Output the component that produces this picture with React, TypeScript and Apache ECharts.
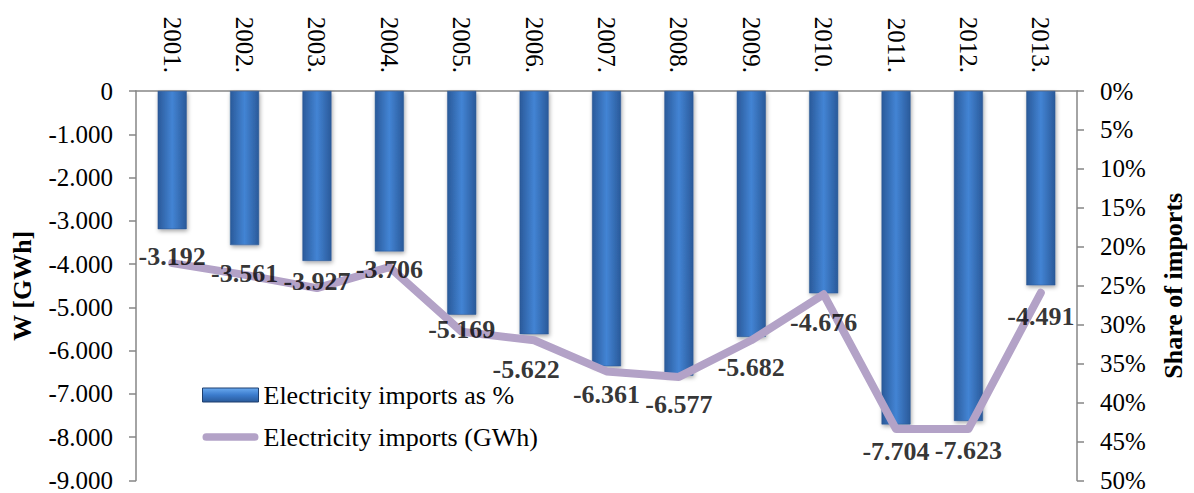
import React, { useEffect, useRef } from "react";
import * as echarts from "echarts";

const years = ["2001.", "2002.", "2003.", "2004.", "2005.", "2006.", "2007.", "2008.", "2009.", "2010.", "2011.", "2012.", "2013."];
const importsGWh = [-3192, -3561, -3927, -3706, -5169, -5622, -6361, -6577, -5682, -4676, -7704, -7623, -4491];
const sharePct = [22.1, 23.6, 25.3, 22.6, 30.9, 32.0, 36.0, 36.7, 32.0, 26.1, 43.4, 43.4, 25.9];

const barName = "Electricity imports as %";
const lineName = "Electricity imports (GWh)";

// label nudges (pixels) to mimic the manually placed data labels
const labelDx = [0, 0, 0, 0, 0, -8, 0, 0, 0, 0, 0, 0, 0];
const labelDy = [-3, -2, -10, -12, -16, 5, -2, -2, 0, -1, -3, -1, 1];

const FONT = '"Liberation Serif", "Times New Roman", serif';
const LINE_COLOR = "#b3a2c7";

function fmtThousands(v: number): string {
  if (v === 0) return "0";
  const s = Math.abs(Math.round(v)).toString().replace(/\B(?=(\d{3})+(?!\d))/g, ".");
  return (v < 0 ? "-" : "") + s;
}

export default function App() {
  const ref = useRef<HTMLDivElement>(null);
  useEffect(() => {
    if (!ref.current) return;
    const chart = echarts.init(ref.current, undefined, { renderer: "svg" });
    const barGradient = new echarts.graphic.LinearGradient(0, 0, 1, 0, [
      { offset: 0, color: "#2a5a9a" },
      { offset: 0.5, color: "#4384d4" },
      { offset: 1, color: "#2a5a9a" },
    ]);
    const legendBarGradient = new echarts.graphic.LinearGradient(0, 0, 0, 1, [
      { offset: 0, color: "#6aaaf0" },
      { offset: 0.5, color: "#3b7bcc" },
      { offset: 1, color: "#2a5a9a" },
    ]);
    chart.setOption({
      animation: false,
      backgroundColor: "#ffffff",
      textStyle: { fontFamily: FONT },
      grid: { left: 136, right: 109, top: 91, bottom: 9, containLabel: false },
      legend: {
        orient: "vertical",
        left: 197,
        top: 377,
        itemWidth: 56,
        itemHeight: 14,
        itemGap: 16,
        textStyle: { fontFamily: FONT, fontSize: 26, color: "#000" },
        data: [
          { name: barName, icon: "rect", itemStyle: { color: legendBarGradient, borderColor: "#1f3f6e", borderWidth: 1 } },
          {
            name: lineName,
            icon: "path://M4,0 H54 A4,4 0 0 1 54,8 H4 A4,4 0 0 1 4,0 Z",
            itemStyle: { color: LINE_COLOR, borderWidth: 0 },
          },
        ],
      },
      xAxis: {
        type: "category",
        position: "top",
        data: years,
        axisLine: { lineStyle: { color: "#868686", width: 1.5 } },
        axisTick: { inside: true, length: 7, lineStyle: { color: "#868686", width: 1.5 } },
        axisLabel: { rotate: -90, margin: 18, fontFamily: FONT, fontSize: 25, color: "#000" },
        splitLine: { show: false },
      },
      yAxis: [
        {
          type: "value",
          min: -9000,
          max: 0,
          interval: 1000,
          name: "W [GWh]",
          nameLocation: "middle",
          nameGap: 101,
          nameRotate: 90,
          nameTextStyle: { fontFamily: FONT, fontSize: 26, fontWeight: "bold", color: "#000" },
          axisLine: { show: true, lineStyle: { color: "#868686", width: 1.5 } },
          axisTick: { show: true, length: 7, lineStyle: { color: "#868686", width: 1.5 } },
          axisLabel: { margin: 23, fontFamily: FONT, fontSize: 25, color: "#000", formatter: (v: number) => fmtThousands(v) },
          splitLine: { show: false },
        },
        {
          type: "value",
          min: 0,
          max: 50,
          interval: 5,
          inverse: true,
          position: "right",
          name: "Share of imports",
          nameLocation: "middle",
          nameGap: 83,
          nameRotate: 90,
          nameTextStyle: { fontFamily: FONT, fontSize: 26, fontWeight: "bold", color: "#000" },
          axisLine: { show: true, lineStyle: { color: "#868686", width: 1.5 } },
          axisTick: { show: true, length: 7, lineStyle: { color: "#868686", width: 1.5 } },
          axisLabel: { margin: 23, fontFamily: FONT, fontSize: 25, color: "#000", formatter: "{value}%" },
          splitLine: { show: false },
        },
      ],
      series: [
        {
          name: barName,
          type: "bar",
          yAxisIndex: 0,
          barWidth: 29,
          itemStyle: {
            color: barGradient,
            borderColor: "#2a5590",
            borderWidth: 0.5,
            shadowColor: "rgba(0,0,0,0.35)",
            shadowBlur: 4,
            shadowOffsetX: 1,
            shadowOffsetY: 2,
          },
          data: importsGWh,
          z: 2,
        },
        {
          name: lineName,
          type: "line",
          yAxisIndex: 1,
          symbol: "none",
          lineStyle: { color: LINE_COLOR, width: 8, cap: "round", join: "round" },
          itemStyle: { color: LINE_COLOR },
          data: sharePct,
          z: 3,
        },
        {
          name: "labels",
          type: "scatter",
          yAxisIndex: 0,
          symbol: "circle",
          symbolSize: 1,
          itemStyle: { color: "rgba(0,0,0,0)" },
          silent: true,
          label: {
            show: true,
            position: "bottom",
            distance: 17,
            fontFamily: FONT,
            fontSize: 26,
            fontWeight: "bold",
            color: "#000",
            formatter: (p: any) => fmtThousands(p.value[1]),
          },
          data: importsGWh.map((v, i) => ({ value: [i, v], label: { offset: [labelDx[i], labelDy[i]] } })),
          z: 5,
        },
      ],
    });
    return () => chart.dispose();
  }, []);
  return <div ref={ref} style={{ position: "absolute", left: 0, top: 0, width: 1194, height: 493 }} />;
}
